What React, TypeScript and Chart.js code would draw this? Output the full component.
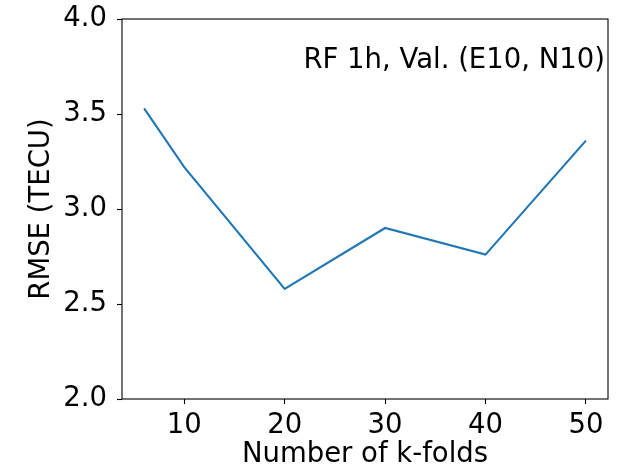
import React, { useEffect, useRef } from "react";
import { Chart, registerables } from "chart.js";

Chart.register(...registerables);

const kFolds = [6, 10, 20, 30, 40, 50];
const rmse = [3.53, 3.22, 2.58, 2.9, 2.76, 3.36];
const xTickValues = [10, 20, 30, 40, 50];
const yTickValues = [2.0, 2.5, 3.0, 3.5, 4.0];
const xRange = [3.8, 52.2];
const yRange = [2.0, 4.0];
const annotationText = "RF 1h, Val. (E10, N10)";
const xTitle = "Number of k-folds";
const yTitle = "RMSE (TECU)";

const FONT = "'DejaVu Sans', sans-serif";
const FS = 27.5;

const framePlugin = {
  id: "frame",
  afterDraw(chart: any) {
    const { ctx, chartArea } = chart;
    ctx.save();
    ctx.strokeStyle = "#000";
    ctx.lineWidth = 1.1;
    ctx.strokeRect(chartArea.left, chartArea.top, chartArea.right - chartArea.left, chartArea.bottom - chartArea.top);
    ctx.font = `${FS}px ${FONT}`;
    ctx.fillStyle = "#000";
    ctx.textAlign = "right";
    ctx.textBaseline = "alphabetic";
    ctx.fillText(annotationText, chartArea.right - 3, chartArea.top + 49);
    ctx.restore();
  },
};

export default function App() {
  const ref = useRef<HTMLCanvasElement | null>(null);
  useEffect(() => {
    document.body.style.margin = "0";
    const chart = new Chart(ref.current as HTMLCanvasElement, {
      type: "line",
      data: {
        datasets: [
          {
            data: kFolds.map((k, i) => ({ x: k, y: rmse[i] })),
            borderColor: "#1f77b4",
            borderWidth: 2.1,
            pointRadius: 0,
            tension: 0,
            fill: false,
          },
        ],
      },
      options: {
        animation: false,
        responsive: false,
        layout: { padding: { top: 19, right: 15, left: 0, bottom: 0 } },
        plugins: { legend: { display: false }, tooltip: { enabled: false } },
        scales: {
          x: {
            type: "linear",
            min: xRange[0],
            max: xRange[1],
            afterBuildTicks: (s: any) => {
              s.ticks = xTickValues.map((v) => ({ value: v }));
            },
            afterFit: (s: any) => {
              s.height = 70;
              s.paddingLeft = 0;
              s.paddingRight = 0;
            },
            grid: { drawOnChartArea: false, drawTicks: true, tickLength: 5, tickColor: "#000", tickWidth: 1.1 },
            border: { display: false },
            ticks: { color: "#000", font: { family: FONT, size: FS }, padding: 5, maxRotation: 0, autoSkip: false },
            title: {
              display: true,
              text: xTitle,
              color: "#000",
              font: { family: FONT, size: FS, lineHeight: 1 },
              padding: { top: 0, bottom: 0 },
            },
          },
          y: {
            type: "linear",
            min: yRange[0],
            max: yRange[1],
            afterBuildTicks: (s: any) => {
              s.ticks = yTickValues.map((v) => ({ value: v }));
            },
            afterFit: (s: any) => {
              s.width = 122;
              s.paddingTop = 0;
              s.paddingBottom = 0;
            },
            grid: { drawOnChartArea: false, drawTicks: true, tickLength: 5, tickColor: "#000", tickWidth: 1.1 },
            border: { display: false },
            ticks: {
              color: "#000",
              font: { family: FONT, size: FS },
              padding: 10,
              callback: (v: any) => Number(v).toFixed(1),
            },
            title: {
              display: true,
              text: yTitle,
              color: "#000",
              font: { family: FONT, size: FS, lineHeight: 1 },
              padding: { top: 28, bottom: 0 },
            },
          },
        },
      },
      plugins: [framePlugin],
    } as any);
    return () => chart.destroy();
  }, []);
  return (
    <div style={{ width: 623, height: 469, background: "#fff" }}>
      <canvas ref={ref} width={623} height={469} style={{ display: "block" }} />
    </div>
  );
}
